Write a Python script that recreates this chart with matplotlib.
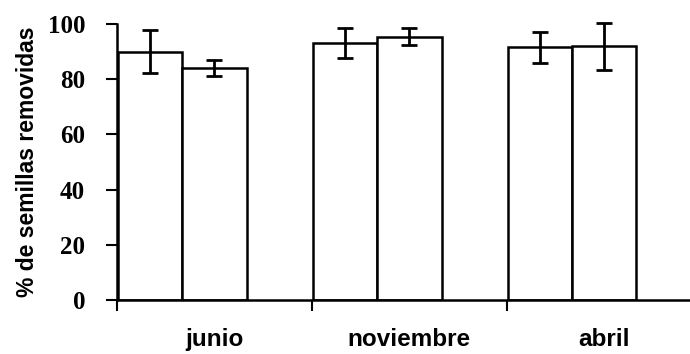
import matplotlib
matplotlib.use("Agg")
import matplotlib.pyplot as plt
from matplotlib.ticker import FixedLocator

# data
meses = ["junio", "noviembre", "abril"]
serie_a = [90.0, 93.0, 91.5]
err_a = [7.8, 5.5, 5.7]
serie_b = [84.0, 95.4, 92.0]
err_b = [3.0, 3.0, 8.5]
yticks = [0, 20, 40, 60, 80, 100]

fig = plt.figure(figsize=(6.9, 3.54), dpi=100)
ax = fig.add_axes([117 / 690, 54 / 354, 573 / 690, 276 / 354])

w = 0.33
pos = list(range(len(meses)))
xa = [p + 0.005 for p in pos]
xb = [p + 0.005 + w for p in pos]

ax.bar(xa, serie_a, width=w, align="edge", color="white", edgecolor="black", linewidth=1.8)
ax.bar(xb, serie_b, width=w, align="edge", color="white", edgecolor="black", linewidth=1.8)
for xs, ys, es in [(xa, serie_a, err_a), (xb, serie_b, err_b)]:
    eb = ax.errorbar([x + w / 2 for x in xs], ys, yerr=es, fmt="none",
                     ecolor="black", elinewidth=2, capsize=5.5, capthick=2)
    for art in eb.lines[1] + eb.lines[2]:
        art.set_clip_on(False)

ax.set_xlim(0, 2.94)
ax.set_ylim(0, 100)
ax.set_yticks(yticks)
ax.set_yticklabels([str(v) for v in yticks], family="Liberation Serif",
                   fontsize=18, fontweight="bold")

# category boundaries as ticks, names centred in each category
ax.xaxis.set_major_locator(FixedLocator([0, 1, 2, 3]))
ax.xaxis.set_minor_locator(FixedLocator([p + 0.5 for p in pos]))
ax.xaxis.set_major_formatter(plt.NullFormatter())
ax.set_xticklabels(meses, minor=True, family="Liberation Sans",
                   fontsize=17.5, fontweight="bold")
ax.tick_params(axis="x", which="major", length=8, width=1.5, direction="out")
ax.tick_params(axis="x", which="minor", length=0, pad=20)
ax.tick_params(axis="y", length=8, width=1.5, direction="out", pad=15)

for s in ["top", "right"]:
    ax.spines[s].set_visible(False)
ax.spines["left"].set_linewidth(1.8)
ax.spines["bottom"].set_linewidth(1.8)

ax.set_ylabel("% de semillas removidas", family="Liberation Sans",
              fontsize=16.5, fontweight="bold", labelpad=6)

fig.savefig("out.png", dpi=100)
